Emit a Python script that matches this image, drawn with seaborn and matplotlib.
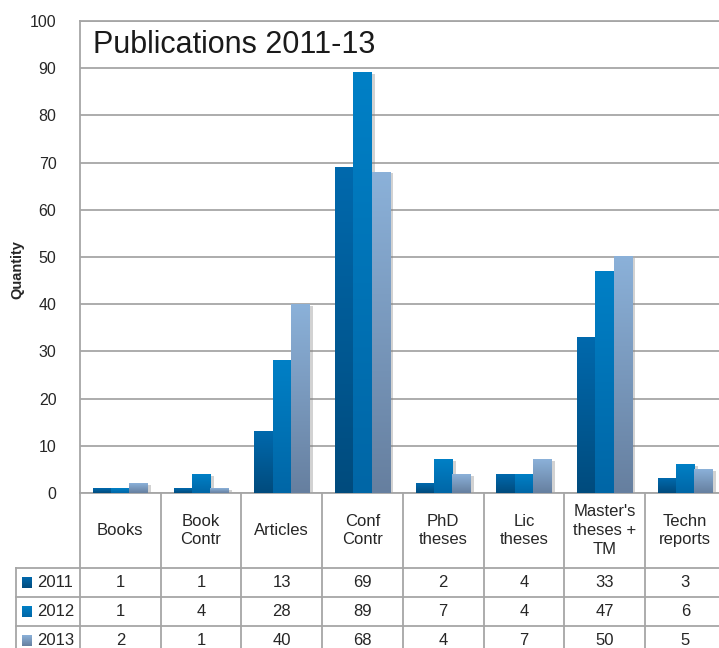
import numpy as np
import pandas as pd
import matplotlib
matplotlib.use("Agg")
import matplotlib.pyplot as plt
import seaborn as sns
from matplotlib import patheffects
from matplotlib.colors import LinearSegmentedColormap

# -----------------------------------------
# Data
# -----------------------------------------

categories = [
    "Books", "Book\nContr", "Articles", "Conf\nContr",
    "PhD\ntheses", "Lic\ntheses", "Master's\ntheses +\nTM", "Techn\nreports",
]
years = ["2011", "2012", "2013"]
q2011 = [1, 1, 13, 69, 2, 4, 33, 3]
q2012 = [1, 4, 28, 89, 7, 4, 47, 6]
q2013 = [2, 1, 40, 68, 4, 7, 50, 5]

top_colors = ["#0069AD", "#0080C6", "#8BB1D9"]
bottom_colors = ["#004B7D", "#0066A6", "#667F9F"]
grid_color = "#A6A6A6"
text_color = "#262626"

df = pd.DataFrame({
    "category": categories * 3,
    "year": np.repeat(years, len(categories)),
    "value": q2011 + q2012 + q2013,
})

plt.rcParams["font.family"] = ["Liberation Sans", "DejaVu Sans"]

W, H = 719, 648
n = len(categories)
col_px = 80.7          # width of one category column in pixels
x0_px, y0_px, top_px = 80, 493, 21

fig = plt.figure(figsize=(W / 100, H / 100), dpi=100)
ax = fig.add_axes([x0_px / W, 1 - y0_px / H, n * col_px / W, (y0_px - top_px) / H])

sns.barplot(
    data=df, x="category", y="value", hue="year",
    palette=top_colors, width=0.68, saturation=1,
    legend=False, ax=ax,
)


def gradient_cmap(i):
    return LinearSegmentedColormap.from_list(f"g{i}", [bottom_colors[i], top_colors[i]])


grad = np.linspace(0, 1, 256).reshape(-1, 1)

# replace flat bars with vertical gradients + soft shadow
for hi, cont in enumerate(ax.containers):
    for bar in cont:
        bx, bw, bh = bar.get_x(), bar.get_width(), bar.get_height()
        ax.imshow(
            grad, origin="lower", aspect="auto", cmap=gradient_cmap(hi),
            extent=[bx, bx + bw, 0, bh], zorder=3,
        )
        bar.set_path_effects([
            patheffects.SimplePatchShadow(offset=(2.5, -1), shadow_rgbFace="#808080", alpha=0.35)
        ])

ax.set_xlim(-0.5, n - 0.5)
ax.set_ylim(0, 100)
ax.set_yticks(range(0, 101, 10))
ax.set_xticks([])
ax.set_xlabel("")
ax.set_ylabel("")
ax.set_axisbelow(True)
ax.yaxis.grid(True, color=grid_color, lw=1.3)
ax.tick_params(axis="y", length=0, pad=17, labelsize=11.5, labelcolor=text_color)
for side in ["left", "top", "bottom"]:
    ax.spines[side].set_color(grid_color)
    ax.spines[side].set_linewidth(1.3)
ax.spines["right"].set_visible(False)

fig.text(93 / W, 1 - 45 / H, "Publications 2011-13", fontsize=22,
         color="#1a1a1a", va="center", ha="left")
fig.text(17 / W, 1 - 270 / H, "Quantity", fontsize=10.5, fontweight="bold",
         rotation=90, va="center", ha="center", color=text_color)

# -----------------------------------------
# Data table below the chart
# -----------------------------------------

tab = fig.add_axes([x0_px / W, 0, n * col_px / W, (H - y0_px) / H])
tab.set_xlim(-0.5, n - 0.5)
tab.set_ylim(H, y0_px)
tab.axis("off")


def px_x(px):
    return (px - x0_px) / col_px - 0.5


row_lines = [568, 597, 626, 655]
legend_left = px_x(16)
line_kw = dict(color=grid_color, lw=1.3, clip_on=False)

for k in range(n + 1):
    tab.plot([k - 0.5, k - 0.5], [y0_px, H + 5], **line_kw)
tab.plot([legend_left, legend_left], [row_lines[0], H + 5], **line_kw)
for y in row_lines[:-1]:
    tab.plot([legend_left, n - 0.5], [y, y], **line_kw)

header_mid = (y0_px + row_lines[0]) / 2
for i, cat in enumerate(categories):
    tab.text(i, header_mid, cat, ha="center", va="center", fontsize=12,
             linespacing=1.3, color=text_color)

for r, (year, vals) in enumerate(zip(years, [q2011, q2012, q2013])):
    ymid = (row_lines[r] + row_lines[r + 1]) / 2
    for i, v in enumerate(vals):
        tab.text(i, ymid, str(v), ha="center", va="center", fontsize=12,
                 color=text_color, clip_on=False)
    tab.imshow(
        grad, origin="lower", aspect="auto", cmap=gradient_cmap(r),
        extent=[px_x(22), px_x(32), ymid + 5.5, ymid - 5.5], clip_on=False, zorder=3,
    )
    tab.text(px_x(37), ymid, year, ha="left", va="center", fontsize=12,
             color=text_color, clip_on=False)

tab.set_xlim(-0.5, n - 0.5)
tab.set_ylim(H, y0_px)

fig.savefig("out.png", dpi=100)
